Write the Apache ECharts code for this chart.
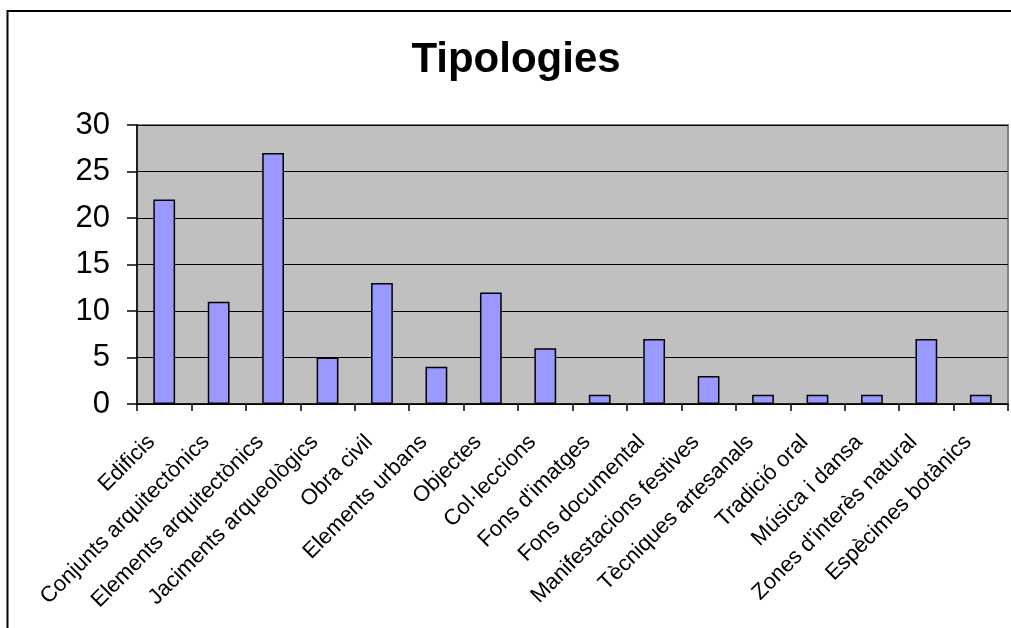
<!DOCTYPE html>
<html>
<head>
<meta charset="utf-8">
<script src="https://cdn.jsdelivr.net/npm/echarts@6/dist/echarts.min.js"></script>
<style>
html,body{margin:0;padding:0;background:#fff;}
#c{width:1011px;height:628px;}
</style>
</head>
<body>
<div id="c"></div>
<script>
const categories = ["Edificis","Conjunts arquitectònics","Elements arquitectònics","Jaciments arqueològics","Obra civil","Elements urbans","Objectes","Col·leccions","Fons d'imatges","Fons documental","Manifestacions festives","Tècniques artesanals","Tradició oral","Música i dansa","Zones d'interès natural","Espècimes botànics"];
const values = [22,11,27,5,13,4,12,6,1,7,3,1,1,1,7,1];
const yTicks = [0,5,10,15,20,25,30];

const chart = echarts.init(document.getElementById('c'), null, {renderer:'canvas'});
const font = 'Arial, "Liberation Sans", sans-serif';
chart.setOption({
  animation:false,
  backgroundColor:'#ffffff',
  graphic:[
    {type:'rect', shape:{x:7.5,y:11,width:1100,height:700}, style:{fill:'none',stroke:'#000',lineWidth:2}, z:0},
    {type:'text', x:516, y:60, style:{text:'Tipologies', fontFamily:font, fontWeight:'bold', fontSize:42, fill:'#000', align:'center', verticalAlign:'middle'}, z:10}
  ],
  grid:{left:137, right:3, top:125, bottom:224, show:true, backgroundColor:'#C0C0C0', borderColor:'#808080', borderWidth:2},
  xAxis:{
    type:'category', data:categories,
    axisLine:{show:true, lineStyle:{color:'#000', width:1.5}},
    axisTick:{show:true, length:7, lineStyle:{color:'#000', width:1.5}},
    axisLabel:{rotate:45, fontSize:22, fontFamily:font, color:'#000', margin:22, interval:0, padding:[0,18,0,0]}
  },
  yAxis:{
    type:'value', min:yTicks[0], max:yTicks[yTicks.length-1], interval:5,
    axisLine:{show:true, lineStyle:{color:'#000', width:1.5}},
    axisTick:{show:true, length:10, lineStyle:{color:'#000', width:1.5}},
    axisLabel:{fontSize:31, fontFamily:font, color:'#000', margin:27},
    splitLine:{show:true, lineStyle:{color:'#000', width:1.2}}
  },
  series:[{
    type:'bar', data:values, barWidth:'40%',
    itemStyle:{color:'#9999FF', borderColor:'#000', borderWidth:1.5}
  }]
});
</script>
</body>
</html>
